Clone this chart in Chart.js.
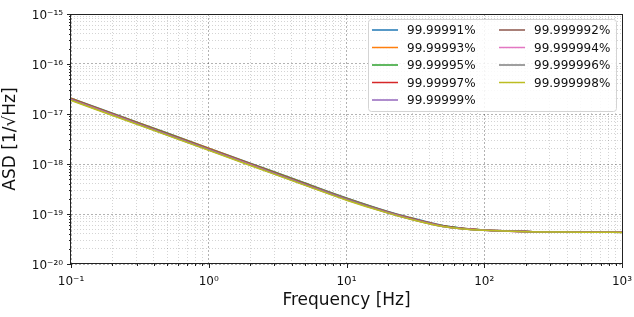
<!DOCTYPE html>
<html>
<head>
<meta charset="utf-8">
<title>ASD vs Frequency</title>
<script src="https://cdn.jsdelivr.net/npm/chart.js@4.4.1/dist/chart.umd.min.js"></script>
<style>
  html, body { margin: 0; padding: 0; background: #fff; }
  #chart-wrap { position: relative; width: 634px; height: 317px; }
</style>
</head>
<body>
<div id="chart-wrap"><canvas id="asd-chart"></canvas></div>
<script>
// Frequency points [Hz]
const frequencies = [0.1, 0.2, 0.5, 1, 2, 5, 10, 20, 30, 50, 70, 100, 200, 500, 1000];

// Series names and colours (matplotlib tab10)
const seriesLabels = ['99.99991%', '99.99993%', '99.99995%', '99.99997%', '99.99999%',
                      '99.999992%', '99.999994%', '99.999996%', '99.999998%'];
const seriesColors = ['#1f77b4', '#ff7f0e', '#2ca02c', '#d62728', '#9467bd',
                      '#8c564b', '#e377c2', '#7f7f7f', '#bcbd22'];

// ASD values [1/sqrt(Hz)]
const asd99_99991  = [2.08e-17, 1.04e-17, 4.16e-18, 2.08e-18, 1.04e-18, 4.16e-19, 2.09e-19, 1.12e-19, 8.3e-20, 5.9e-20, 5.2e-20, 4.8e-20, 4.47e-20, 4.36e-20, 4.31e-20];
const asd99_99993  = [2.06e-17, 1.03e-17, 4.12e-18, 2.06e-18, 1.03e-18, 4.12e-19, 2.07e-19, 1.11e-19, 8.2e-20, 5.85e-20, 5.18e-20, 4.79e-20, 4.47e-20, 4.36e-20, 4.31e-20];
const asd99_99995  = [2.03e-17, 1.015e-17, 4.06e-18, 2.03e-18, 1.015e-18, 4.06e-19, 2.04e-19, 1.1e-19, 8.1e-20, 5.8e-20, 5.15e-20, 4.78e-20, 4.46e-20, 4.35e-20, 4.3e-20];
const asd99_99997  = [2.0e-17, 1.0e-17, 4.0e-18, 2.0e-18, 1.0e-18, 4.0e-19, 2.01e-19, 1.09e-19, 8.0e-20, 5.75e-20, 5.12e-20, 4.77e-20, 4.46e-20, 4.35e-20, 4.3e-20];
const asd99_99999  = [1.98e-17, 9.9e-18, 3.96e-18, 1.98e-18, 9.9e-19, 3.96e-19, 1.99e-19, 1.08e-19, 7.95e-20, 5.72e-20, 5.1e-20, 4.76e-20, 4.45e-20, 4.35e-20, 4.3e-20];
const asd99_999992 = [1.95e-17, 9.75e-18, 3.9e-18, 1.95e-18, 9.75e-19, 3.9e-19, 1.96e-19, 1.07e-19, 7.85e-20, 5.68e-20, 5.08e-20, 4.75e-20, 4.45e-20, 4.35e-20, 4.3e-20];
const asd99_999994 = [1.93e-17, 9.65e-18, 3.86e-18, 1.93e-18, 9.65e-19, 3.86e-19, 1.94e-19, 1.06e-19, 7.8e-20, 5.65e-20, 5.06e-20, 4.74e-20, 4.44e-20, 4.34e-20, 4.3e-20];
const asd99_999996 = [1.9e-17, 9.5e-18, 3.8e-18, 1.9e-18, 9.5e-19, 3.8e-19, 1.92e-19, 1.05e-19, 7.72e-20, 5.62e-20, 5.04e-20, 4.73e-20, 4.44e-20, 4.34e-20, 4.29e-20];
const asd99_999998 = [1.87e-17, 9.35e-18, 3.74e-18, 1.87e-18, 9.35e-19, 3.74e-19, 1.89e-19, 1.04e-19, 7.65e-20, 5.6e-20, 5.02e-20, 4.72e-20, 4.43e-20, 4.34e-20, 4.29e-20];

const seriesValues = [asd99_99991, asd99_99993, asd99_99995, asd99_99997, asd99_99999,
                      asd99_999992, asd99_999994, asd99_999996, asd99_999998];

// Decade tick labels
const xDecades = [-1, 0, 1, 2, 3];
const xTickLabels = ['10⁻¹', '10⁰', '10¹', '10²', '10³'];
const yDecades = [-20, -19, -18, -17, -16, -15];
const yTickLabels = ['10⁻²⁰', '10⁻¹⁹', '10⁻¹⁸', '10⁻¹⁷', '10⁻¹⁶', '10⁻¹⁵'];

let chart = null;

// 1..9 x 10^n ticks for every decade, major on the powers of ten
function buildLogTicks(decades) {
    const ticks = [];
    for (let d = 0; d < decades.length; d++) {
        const e = decades[d];
        const last = d === decades.length - 1;
        for (let m = 1; m <= (last ? 1 : 9); m++) {
            ticks.push({ value: Number(m + 'e' + e), major: m === 1, decade: d });
        }
    }
    return ticks;
}

// Only the powers of ten get a label
function decadeLabel(tick, labels) {
    if (!tick || !tick.major) return '';
    return labels[tick.decade];
}

// Grid: dotted, majors a little darker
const gridColor = (ctx) => (ctx.tick && ctx.tick.major) ? 'rgba(0,0,0,0.30)' : 'rgba(0,0,0,0.17)';
const gridDash = (ctx) => (ctx.tick && ctx.tick.major) ? [2, 2] : [1, 2];

// Frame on all four sides plus outward tick marks
const axesFramePlugin = {
    id: 'axesFrame',
    afterDatasetsDraw(c) {
        const { ctx, chartArea: a, scales } = c;
        ctx.save();
        ctx.strokeStyle = '#222';
        ctx.lineWidth = 1;
        ctx.beginPath();
        scales.x.ticks.forEach(t => {
            const px = Math.round(scales.x.getPixelForValue(t.value)) + 0.5;
            ctx.moveTo(px, a.bottom);
            ctx.lineTo(px, a.bottom + (t.major ? 4 : 2));
        });
        scales.y.ticks.forEach(t => {
            const py = Math.round(scales.y.getPixelForValue(t.value)) + 0.5;
            ctx.moveTo(a.left, py);
            ctx.lineTo(a.left - (t.major ? 4 : 2), py);
        });
        ctx.stroke();
        ctx.strokeRect(Math.round(a.left) - 0.5, Math.round(a.top) + 0.5,
                       Math.round(a.right - a.left) + 1, Math.round(a.bottom - a.top) - 1);
        ctx.restore();
    }
};

// Two-column legend in the upper right corner (column-major, like matplotlib)
const cornerLegendPlugin = {
    id: 'cornerLegend',
    afterDraw(c) {
        const { ctx, chartArea: a } = c;
        const boxW = 248, boxH = 92;
        const x0 = a.right - 6 - boxW;
        const y0 = a.top + 5;
        ctx.save();
        ctx.fillStyle = 'rgba(255,255,255,0.85)';
        ctx.strokeStyle = '#d4d4d4';
        ctx.lineWidth = 1;
        ctx.beginPath();
        ctx.roundRect(x0 + 0.5, y0 + 0.5, boxW, boxH, 3);
        ctx.fill();
        ctx.stroke();

        ctx.font = '12px "DejaVu Sans"';
        ctx.textBaseline = 'middle';
        ctx.textAlign = 'left';
        const perCol = 5;
        const colX = [x0 + 4, x0 + 131];
        c.data.datasets.forEach((ds, i) => {
            const col = Math.floor(i / perCol);
            const row = i % perCol;
            const lx = colX[col];
            const ly = y0 + 11 + row * 17.5;
            ctx.strokeStyle = ds.borderColor;
            ctx.lineWidth = 1.5;
            ctx.beginPath();
            ctx.moveTo(lx, ly);
            ctx.lineTo(lx + 26, ly);
            ctx.stroke();
            ctx.fillStyle = '#111';
            ctx.fillText(ds.label, lx + 35, ly + 1);
        });
        ctx.restore();
    }
};

function setupChart() {
    const canvas = document.getElementById('asd-chart');
    if (!canvas) return;
    if (chart) chart.destroy();

    Chart.defaults.font.family = '"DejaVu Sans", sans-serif';
    Chart.defaults.color = '#111';

    const datasets = seriesLabels.map((label, i) => ({
        label: label,
        data: frequencies.map((f, k) => ({ x: f, y: seriesValues[i][k] })),
        borderColor: seriesColors[i],
        backgroundColor: seriesColors[i],
        borderWidth: 1.5,
        pointRadius: 0,
        fill: false,
        cubicInterpolationMode: 'monotone',
        order: seriesLabels.length - i   // last series ends up on top
    }));

    chart = new Chart(canvas, {
        type: 'line',
        data: { datasets: datasets },
        options: {
            responsive: true,
            maintainAspectRatio: false,
            animation: false,
            layout: { padding: { top: 14, right: 12, left: 0, bottom: 0 } },
            scales: {
                x: {
                    type: 'logarithmic',
                    min: 0.1,
                    max: 1000,
                    afterBuildTicks: (scale) => { scale.ticks = buildLogTicks(xDecades); },
                    afterFit: (scale) => {
                        scale.height = 53;
                        scale.paddingLeft = 0;
                        scale.paddingRight = 0;
                    },
                    grid: { color: gridColor, lineWidth: 1, drawTicks: false },
                    border: { display: false, dash: gridDash },
                    ticks: {
                        autoSkip: false,
                        maxRotation: 0,
                        padding: 11,
                        color: '#111',
                        font: { size: 12 },
                        callback: (value, index, ticks) => decadeLabel(ticks[index], xTickLabels)
                    },
                    title: {
                        display: true,
                        text: 'Frequency [Hz]',
                        color: '#111',
                        font: { size: 17 },
                        padding: { top: 0, bottom: 6 }
                    }
                },
                y: {
                    type: 'logarithmic',
                    min: 1e-20,
                    max: 1e-15,
                    afterBuildTicks: (scale) => { scale.ticks = buildLogTicks(yDecades); },
                    afterFit: (scale) => {
                        scale.width = 71;
                        scale.paddingTop = 0;
                        scale.paddingBottom = 0;
                    },
                    grid: { color: gridColor, lineWidth: 1, drawTicks: false },
                    border: { display: false, dash: gridDash },
                    ticks: {
                        autoSkip: false,
                        padding: 8,
                        labelOffset: 2,
                        color: '#111',
                        font: { size: 12 },
                        callback: (value, index, ticks) => decadeLabel(ticks[index], yTickLabels)
                    },
                    title: {
                        display: true,
                        text: 'ASD [1/√Hz]',
                        color: '#111',
                        font: { size: 17 },
                        padding: { top: 0, bottom: 0 }
                    }
                }
            },
            plugins: {
                legend: { display: false },
                tooltip: { enabled: false }
            }
        },
        plugins: [axesFramePlugin, cornerLegendPlugin]
    });
}

document.addEventListener('DOMContentLoaded', setupChart);
</script>
</body>
</html>
